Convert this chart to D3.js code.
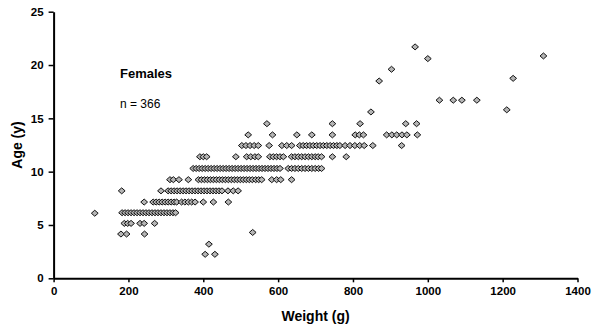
<!DOCTYPE html>
<html>
<head>
<meta charset="utf-8">
<script src="https://cdn.jsdelivr.net/npm/d3@7"></script>
<style>
  html, body { margin: 0; padding: 0; background: #fff; }
  svg { display: block; font-family: "Liberation Sans", Arial, sans-serif; }
</style>
</head>
<body>
<svg id="chart" width="600" height="332"></svg>
<script>
// ---- data ----
const xTicks = [0, 200, 400, 600, 800, 1000, 1200, 1400];
const yTicks = [0, 5, 10, 15, 20, 25];

// horizontal bands of points: age of each band and the weights in it
const rowAges = [4.15, 5.15, 6.15, 7.15, 8.2, 9.25, 10.3, 11.4, 12.45, 13.45, 14.5];
const row4  = [180, 195, 243];
const row5  = [189, 198, 207, 231, 242, 270];
const row6  = [183, 191, 199, 207, 215, 223, 231, 239, 247, 255, 263, 271, 279, 287, 295, 303, 311, 319, 326];
const row7  = [242, 266, 274, 282, 290, 298, 306, 314, 322, 329, 342, 351, 360, 369, 378, 400, 427, 467];
const row8  = [182, 287, 306, 314, 322, 330, 338, 346, 354, 362, 370, 378, 386, 394, 402, 410, 418, 426, 434, 442, 450, 466, 480, 493];
const row9  = [311, 320, 335, 360, 387, 395, 403, 411, 419, 427, 435, 443, 451, 459, 467, 475, 483, 491, 499, 507, 515, 523, 531, 540, 548, 556, 583, 596, 607, 636];
const row10 = [373, 381, 389, 397, 405, 413, 421, 429, 437, 445, 453, 461, 469, 477, 485, 493, 501, 509, 517, 525, 533, 541, 549, 557, 565, 573, 581, 589, 597, 605, 627, 636, 645, 654, 663, 672, 681, 690, 699, 708, 716];
const row11 = [391, 400, 409, 487, 516, 527, 538, 547, 578, 587, 596, 605, 614, 636, 645, 654, 663, 672, 681, 690, 699, 707, 716, 745, 782];
const row12 = [503, 514, 525, 536, 547, 576, 610, 623, 636, 658, 667, 676, 685, 694, 703, 712, 721, 730, 739, 748, 757, 765, 779, 792, 805, 818, 830, 853, 930];
const row13 = [520, 585, 650, 690, 745, 806, 817, 828, 890, 904, 917, 931, 944, 972];
const row14 = [570, 745, 819, 941, 970];
const rowWeights = [row4, row5, row6, row7, row8, row9, row10, row11, row12, row13, row14];

// isolated points
const soloWeights = [110, 532, 415, 405, 431, 848, 870, 903, 966, 1000, 1031, 1068, 1091, 1131, 1211, 1228, 1309];
const soloAges    = [6.1, 4.3, 3.2, 2.25, 2.25, 15.6, 18.5, 19.6, 21.7, 20.6, 16.7, 16.7, 16.7, 16.7, 15.8, 18.75, 20.85];

// ---- build point list ----
const points = [];
rowWeights.forEach((ws, i) => ws.forEach(w => points.push({ w, a: rowAges[i] })));
soloWeights.forEach((w, i) => points.push({ w, a: soloAges[i] }));

// ---- scales ----
const svg = d3.select("#chart");
const x = d3.scaleLinear().domain([0, 1400]).range([53.6, 577.5]);
const y = d3.scaleLinear().domain([0, 25]).range([278.3, 11.7]);

// ---- marker: wide diamond ----
const diamond = {
  draw(ctx, size) {
    const hw = 3.4, hh = 3.0;
    ctx.moveTo(0, -hh); ctx.lineTo(hw, 0); ctx.lineTo(0, hh); ctx.lineTo(-hw, 0); ctx.closePath();
  }
};
const sym = d3.symbol().type(diamond).size(30);

svg.append("g")
  .selectAll("path")
  .data(points)
  .join("path")
  .attr("transform", d => `translate(${x(d.w)},${y(d.a)})`)
  .attr("d", sym)
  .attr("fill", "#b5b5b5")
  .attr("stroke", "#111")
  .attr("stroke-width", 1);

// ---- axes ----
const fmt = d3.format("d");
const xAxis = svg.append("g")
  .attr("transform", `translate(0,${y(0)})`)
  .call(d3.axisBottom(x).tickValues(xTicks).tickFormat(fmt).tickSizeInner(4).tickSizeOuter(0).tickPadding(5));
const yAxis = svg.append("g")
  .attr("transform", `translate(${x(0)},0)`)
  .call(d3.axisLeft(y).tickValues(yTicks).tickFormat(fmt).tickSizeInner(5).tickSizeOuter(0).tickPadding(5));

[xAxis, yAxis].forEach(g => {
  g.select(".domain").attr("stroke", "#000").attr("stroke-width", 2);
  g.selectAll(".tick line").attr("stroke", "#000").attr("stroke-width", 1.5);
  g.selectAll(".tick text")
    .attr("fill", "#000")
    .style("font-family", '"Liberation Sans", Arial, sans-serif')
    .style("font-size", "11.5px")
    .style("font-weight", "bold");
});

// ---- axis titles ----
svg.append("text")
  .attr("x", (x(0) + x(1400)) / 2)
  .attr("y", 321)
  .attr("text-anchor", "middle")
  .style("font-size", "14px")
  .style("font-weight", "bold")
  .text("Weight (g)");

svg.append("text")
  .attr("transform", `translate(22,145) rotate(-90)`)
  .attr("text-anchor", "middle")
  .style("font-size", "14px")
  .style("font-weight", "bold")
  .text("Age (y)");

// ---- annotations ----
svg.append("text")
  .attr("x", 120).attr("y", 78)
  .style("font-size", "13px")
  .style("font-weight", "bold")
  .text("Females");

svg.append("text")
  .attr("x", 120).attr("y", 108)
  .style("font-size", "12px")
  .text("n = 366");
</script>
</body>
</html>
